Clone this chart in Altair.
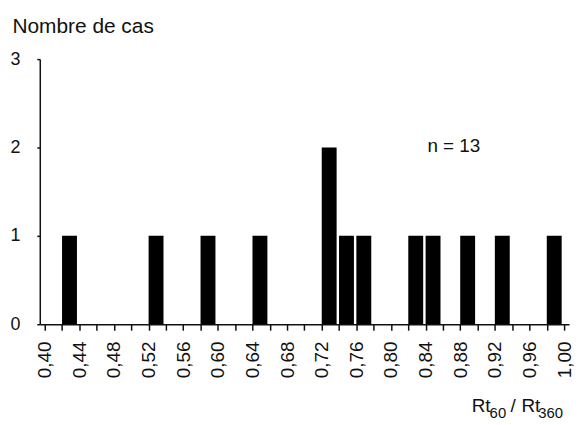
import altair as alt
import pandas as pd

# Histogram bins (left edge of each 0.02-wide class) and number of cases
bin_starts = [0.42, 0.52, 0.58, 0.64, 0.72, 0.74, 0.76, 0.82, 0.84, 0.88, 0.92, 0.98]
counts = [1, 1, 1, 1, 2, 1, 1, 1, 1, 1, 1, 1]

# Axis ticks
x_ticks = [0.40, 0.42, 0.44, 0.46, 0.48, 0.50, 0.52, 0.54, 0.56, 0.58, 0.60,
           0.62, 0.64, 0.66, 0.68, 0.70, 0.72, 0.74, 0.76, 0.78, 0.80,
           0.82, 0.84, 0.86, 0.88, 0.90, 0.92, 0.94, 0.96, 0.98, 1.00]
y_ticks = [0, 1, 2, 3]

y_title = "Nombre de cas"
# x-axis title "Rt60 / Rt360" written as pieces so the numbers can be subscripts
x_title_parts = ["Rt", "60", "/", "Rt", "360"]
x_title_is_sub = [False, True, False, False, True]
annotation = ["n = 13"]

FONT = "Liberation Sans"
INK = "#111111"

df = pd.DataFrame({"start": bin_starts, "count": counts})

bars = alt.Chart(df).mark_bar(
    color="#000000", size=15, xOffset=7.5, orient="vertical"
).encode(
    x=alt.X(
        "start:Q",
        scale=alt.Scale(domain=[0.40, 1.00], nice=False, zero=False),
        axis=alt.Axis(
            values=x_ticks,
            labelExpr="(round(datum.value*100) % 4 == 0) ? replace(format(datum.value, '.2f'), '.', ',') : ''",
            labelAngle=-90,
            labelAlign="right",
            labelBaseline="middle",
            labelFontSize=19,
            labelPadding=11,
            tickSize=6,
            grid=False,
            title=None,
        ),
    ),
    y=alt.Y(
        "count:Q",
        scale=alt.Scale(domain=[0, 3], nice=False),
        axis=alt.Axis(
            values=y_ticks,
            format="d",
            labelFontSize=18,
            labelPadding=17,
            tickSize=3,
            grid=False,
            title=y_title,
            titleAngle=0,
            titleFontSize=21,
            titleFontWeight="normal",
            titleAlign="left",
            titleBaseline="alphabetic",
            titleX=-28,
            titleY=-27,
        ),
    ),
)

note = alt.Chart(pd.DataFrame({"label": annotation})).mark_text(
    font=FONT, fontSize=19, color=INK, align="center", baseline="middle"
).encode(
    x=alt.value(417),
    y=alt.value(88),
    text="label:N",
)

# pixel placement of the x-axis title pieces (relative to plot origin)
part_x = [435, 453, 474, 485, 502]
layers = [bars, note]
for txt, sub, px in zip(x_title_parts, x_title_is_sub, part_x):
    layers.append(
        alt.Chart(pd.DataFrame({"t": [txt]})).mark_text(
            font=FONT,
            fontSize=15 if sub else 19,
            color=INK,
            align="left",
            baseline="alphabetic",
        ).encode(
            x=alt.value(px),
            y=alt.value(361 if sub else 355),
            text="t:N",
        )
    )

chart = alt.layer(*layers).properties(
    width=533,
    height=267,
    autosize=alt.AutoSizeParams(type="none"),
    padding={"left": 32, "top": 50, "right": 8, "bottom": 99},
    background="white",
).configure_view(
    stroke=None
).configure_axis(
    labelFont=FONT,
    titleFont=FONT,
    labelColor=INK,
    titleColor=INK,
    domainColor=INK,
    tickColor=INK,
    domainWidth=1.5,
    tickWidth=1.5,
    labelFlush=False,
    labelOverlap=False,
)

chart.save("out.html", embed_options={"renderer": "svg", "actions": False})
